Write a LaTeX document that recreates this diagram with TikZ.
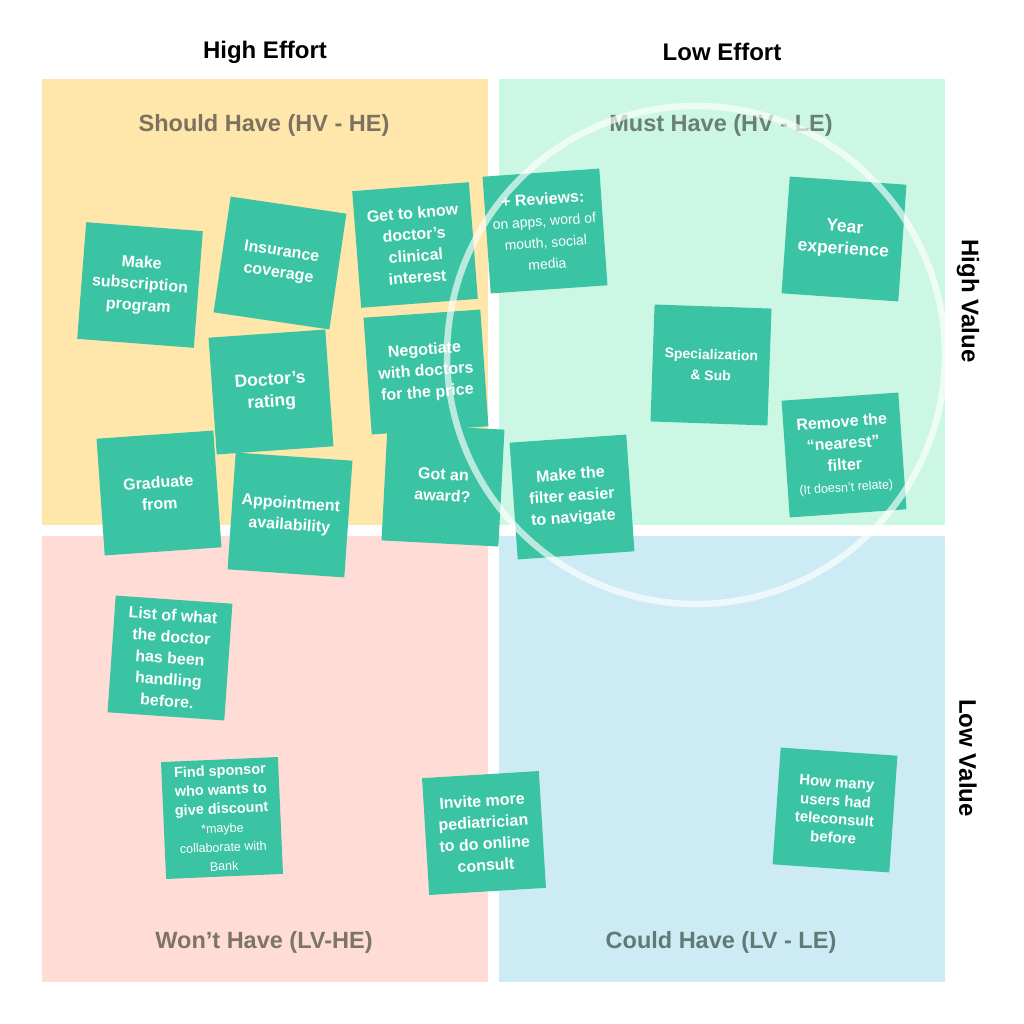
\documentclass[tikz,border=0pt]{standalone}
\usepackage{fontspec}
\setmainfont{Liberation Sans}
\definecolor{qyellow}{HTML}{FFE6AA}
\definecolor{qgreen}{HTML}{CCF7E4}
\definecolor{qpink}{HTML}{FFDCD6}
\definecolor{qblue}{HTML}{CCEBF5}
\definecolor{notec}{HTML}{3AC4A3}
\definecolor{tyellow}{HTML}{7B7261}
\definecolor{tgreen}{HTML}{6A7F75}
\definecolor{tpink}{HTML}{7C7467}
\definecolor{tblue}{HTML}{627A76}
\newcommand{\nb}{\fontsize{16}{21.5}\selectfont\bfseries}
\newcommand{\nbig}{\fontsize{17.5}{22}\selectfont\bfseries}
\newcommand{\nsm}{\fontsize{14}{21}\selectfont\bfseries}
\newcommand{\nmid}{\fontsize{15}{18.5}\selectfont\bfseries}
\newcommand{\nreg}{\fontsize{14}{19.5}\selectfont\mdseries}
\newcommand{\ntiny}{\fontsize{12.5}{15}\selectfont\mdseries}
\tikzset{
  quad/.style={draw=none, inner sep=0, minimum width=446pt, minimum height=446pt},
  note/.style={fill=notec, text=white, align=center, inner sep=0,
    minimum width=117pt, minimum height=117pt, font=\nb},
  head/.style={font=\fontsize{24}{28}\selectfont\bfseries, text=black},
  qtitle/.style={font=\fontsize{23.5}{28}\selectfont\bfseries},
  ring/.style={draw=white, draw opacity=0.65, line width=6.5pt}
}
\begin{document}
\begin{tikzpicture}[x=1pt,y=-1pt]
\useasboundingbox[fill=white] (0,0) rectangle (1024,1024);
% quadrants
\node[quad, fill=qyellow] (qa) at (265,302) {};
\node[quad, fill=qgreen] (qb) at (722,302) {};
\node[quad, fill=qpink] (qc) at (265,759) {};
\node[quad, fill=qblue] (qd) at (722,759) {};
% headers
\node[head] (h1) at (265,52) {High Effort};
\node[head] (h2) at (722,52) {Low Effort};
\node[head, rotate=-90] (h3) at (968,301) {High Value};
\node[head, rotate=-90] (h4) at (968,758) {Low Value};
% quadrant titles
\node[qtitle, text=tyellow] (t1) at (264,125) {Should Have (HV - HE)};
\node[qtitle, text=tgreen] (t2) at (721,125) {Must Have (HV - LE)};
\node[qtitle, text=tpink] (t3) at (264,942) {Won’t Have (LV-HE)};
\node[qtitle, text=tblue] (t4) at (721,942) {Could Have (LV - LE)};
% notes: should have
\node[note, rotate=-4.4] (n1) at (140,285) {Make\\subscription\\program};
\node[note, rotate=-8.4] (n2) at (280,263) {Insurance\\coverage};
\node[note, rotate=4.4] (n3) at (415,245) {Get to know\\doctor’s\\clinical\\interest};
\node[note, rotate=4, font=\nbig] (n9) at (271,392) {Doctor’s\\rating};
\node[note, rotate=4] (n10) at (426,372) {Negotiate\\with doctors\\for the price};
\node[note, rotate=4] (n11) at (159,493) {Graduate\\from};
\node[note, rotate=-4] (n12) at (290,515) {Appointment\\availability};
\node[note, rotate=-3] (n13) at (443,485) {Got an\\award?};
% notes: must have
\node[note, rotate=4] (n4) at (545,231) {+ Reviews:\\{\nreg on apps, word of}\\{\nreg mouth, social}\\{\nreg media}};
\node[note, rotate=-4, font=\nbig] (n5) at (844,239) {Year\\experience};
\node[note, rotate=-2, font=\nsm] (n6) at (711,365) {Specialization\\\& Sub};
\node[note, rotate=4] (n7) at (844,455) {Remove the\\“nearest”\\filter\\{\ntiny (It doesn’t relate)}};
\node[note, rotate=4] (n8) at (572,497) {Make the\\filter easier\\to navigate};
% notes: won't have
\node[note, rotate=-4] (n14) at (170,658) {List of what\\the doctor\\has been\\handling\\before.};
\node[note, rotate=2.5, font=\fontsize{14.5}{19}\selectfont\bfseries] (n15) at (222,818) {Find sponsor\\who wants to\\give discount\\{\ntiny *maybe}\\{\ntiny collaborate with}\\{\ntiny Bank}};
\node[note, rotate=3.5] (n16) at (484,833) {Invite more\\pediatrician\\to do online\\consult};
% notes: could have
\node[note, rotate=-4, font=\nmid] (n17) at (835,810) {How many\\users had\\teleconsult\\before};
% ring
\draw[ring] (696,355) circle (249);
\end{tikzpicture}
\end{document}
